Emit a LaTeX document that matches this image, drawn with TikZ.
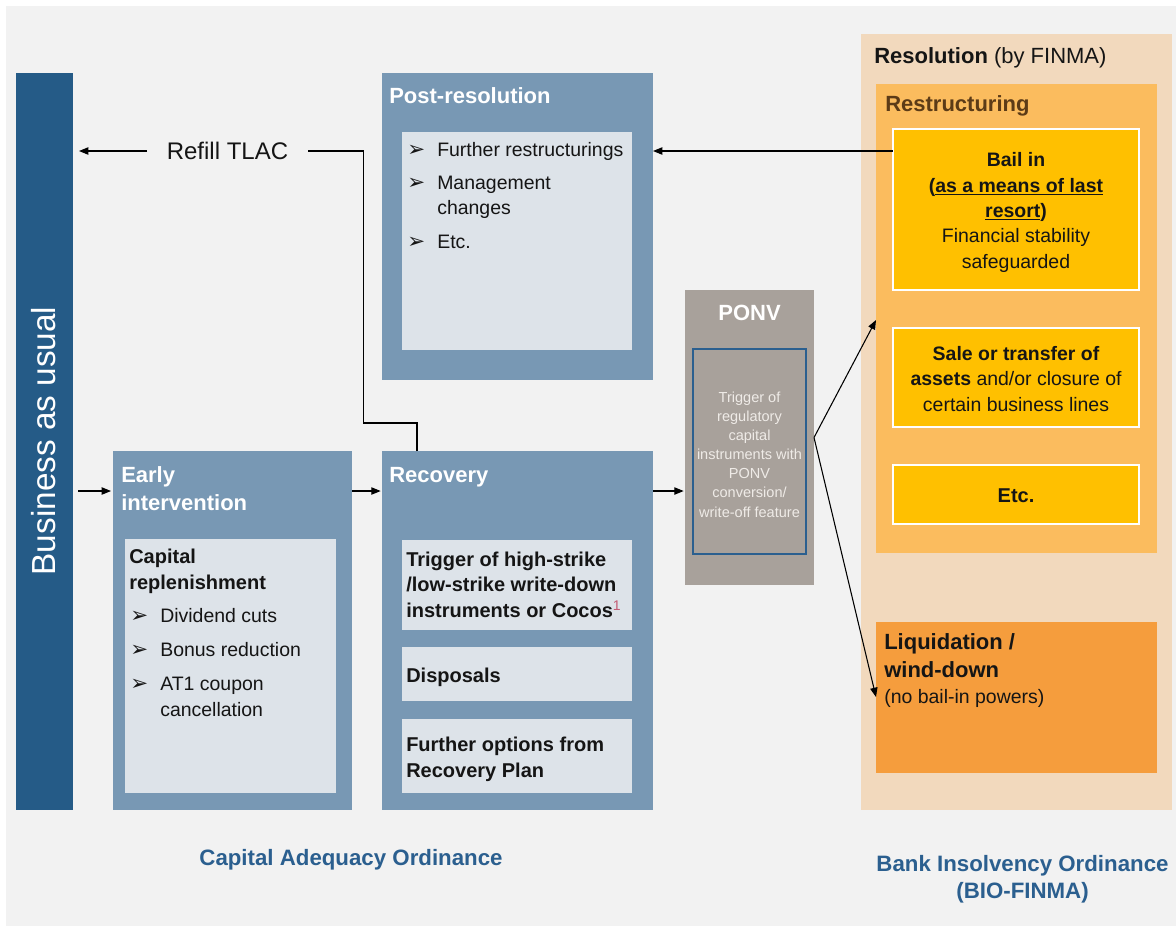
\documentclass[tikz,border=0pt]{standalone}
\usepackage{fontspec}
\setmainfont{Liberation Sans}
\newfontfamily\dejavu{DejaVu Sans}
\usetikzlibrary{fit,arrows.meta,calc}
\definecolor{bgc}{HTML}{F2F2F2}
\definecolor{baublue}{HTML}{255B87}
\definecolor{midblue}{HTML}{7898B4}
\definecolor{paleblue}{HTML}{DDE3E9}
\definecolor{ponvc}{HTML}{A8A19B}
\definecolor{ponvtxt}{HTML}{EFEBE7}
\definecolor{ponvline}{HTML}{2B5F8F}
\definecolor{resbg}{HTML}{F2D9BD}
\definecolor{restrc}{HTML}{FBBC5E}
\definecolor{gold}{HTML}{FFC000}
\definecolor{liqc}{HTML}{F59D3D}
\definecolor{brownt}{HTML}{5C3B17}
\definecolor{ordblue}{HTML}{2B5F8F}
\definecolor{txt}{HTML}{151515}
\definecolor{fnred}{HTML}{C25B73}
\newcommand\arrbul{\makebox[22.5pt][l]{\dejavu\fontsize{16}{16}\selectfont ➢}}
\begin{document}
\begin{tikzpicture}[x=0.75pt,y=-0.75pt,
  area/.style={inner sep=0pt, outer sep=0pt},
  ttl/.style={font=\bfseries\fontsize{16.5}{21}\selectfont, text=white, inner sep=0pt, anchor=base west, align=left},
  body/.style={font=\fontsize{14.6}{19}\selectfont, text=txt, inner sep=0pt, anchor=base west, align=left},
  bbody/.style={font=\bfseries\fontsize{15}{19}\selectfont, text=txt, inner sep=0pt, anchor=base west, align=left},
  conn/.style={line width=0.8pt, draw=black},
  arr/.style={conn, -{Triangle[length=7pt,width=5.5pt]}},
  gbox/.style={area, fill=gold, draw=white, line width=1.4pt},
  ordl/.style={font=\bfseries\fontsize{16.7}{20.25}\selectfont, text=ordblue, inner sep=0pt, anchor=base, align=center},
]
\useasboundingbox (0,0) rectangle (1176,929);
\fill[white] (0,0) rectangle (1176,929);
\fill[bgc] (6,6) rectangle (1176,926);

% Business as usual
\node[area, fill=baublue, fit={(16,73) (73,810)}] (bau) {};
\node[rotate=90, text=white, font=\fontsize{25}{30}\selectfont, inner sep=0pt] (baut) at (44,441) {Business as usual};

% Post-resolution
\node[area, fill=midblue, fit={(382,73) (653,380)}] (post) {};
\node[area, fill=paleblue, fit={(402,132) (632,350)}] (posti) {};
\node[ttl] (postt) at (389,103) {Post-resolution};
\node[body] (postl) at (407,248) {\arrbul Further restructurings\\[6pt]\arrbul Management\\\hspace*{22.5pt}changes\\[6pt]\arrbul Etc.};

% Early intervention
\node[area, fill=midblue, fit={(113,451) (352,810)}] (early) {};
\node[area, fill=paleblue, fit={(125,539) (336,793)}] (earlyi) {};
\node[ttl] (earlyt) at (121,510) {Early\\intervention};
\node[bbody] (cap) at (129,589) {Capital\\replenishment};
\node[body] (capl) at (130,716) {\arrbul Dividend cuts\\[6.5pt]\arrbul Bonus reduction\\[6.5pt]\arrbul AT1 coupon\\\hspace*{22.5pt}cancellation};

% Recovery
\node[area, fill=midblue, fit={(382,451) (653,810)}] (rec) {};
\node[area, fill=paleblue, fit={(402,540) (632,630)}] (rec1) {};
\node[area, fill=paleblue, fit={(402,647) (632,701)}] (rec2) {};
\node[area, fill=paleblue, fit={(402,719) (632,793)}] (rec3) {};
\node[ttl] (rect) at (389,482) {Recovery};
\node[bbody] (rec1t) at (406,617) {Trigger of high-strike\\/low-strike write-down\\instruments or Cocos\textsuperscript{\textcolor{fnred}{\mdseries 1}}};
\node[bbody] (rec2t) at (406,682) {Disposals};
\node[bbody] (rec3t) at (406,777) {Further options from\\Recovery Plan};

% PONV
\node[area, fill=ponvc, fit={(685,290) (814,585)}] (ponv) {};
\node[area, draw=ponvline, line width=1.1pt, fit={(693,349) (806,554)}] (ponvi) {};
\node[ttl, anchor=base] (ponvt) at (749.5,320) {PONV};
\node[font=\fontsize{10.9}{14.3}\selectfont, text=ponvtxt, inner sep=0pt, anchor=base, align=center] (ponvtx) at (749.5,517) {Trigger of\\regulatory\\capital\\instruments with\\PONV\\conversion/\\write-off feature};

% Resolution
\node[area, fill=resbg, fit={(861,34) (1172,810)}] (res) {};
\node[area, fill=restrc, fit={(876,84) (1157,553)}] (restr) {};
\node[gbox, fit={(893,129) (1139,290)}] (bail) {};
\node[gbox, fit={(893,328) (1139,427)}] (sale) {};
\node[gbox, fit={(893,465) (1139,524)}] (etc) {};
\node[area, fill=liqc, fit={(876,622) (1157,773)}] (liq) {};
\node[ttl, text=txt] (rest) at (874,63) {Resolution \mdseries(by FINMA)};
\node[ttl, text=brownt] (restrt) at (885,111) {Restructuring};
\node[body, anchor=base, align=center] (bailt) at (1016,268) {\textbf{Bail in}\\\textbf{(\underline{as a means of last}}\\\textbf{\underline{resort})}\\Financial stability\\safeguarded};
\node[body, anchor=base, align=center] (salet) at (1016,411) {\textbf{Sale or transfer of}\\\textbf{assets} and/or closure of\\certain business lines};
\node[bbody, anchor=base] (etct) at (1016,502) {Etc.};
\node[ttl, text=txt] (liqt) at (884,677) {Liquidation /\\wind-down};
\node[body] (liqn) at (884,703) {(no bail-in powers)};

% Labels
\node[font=\fontsize{18}{22}\selectfont, text=txt, inner xsep=14.5pt, inner ysep=0pt] (refill) at (227.5,151) {Refill TLAC};
\node[ordl] (cao) at (351,865) {Capital Adequacy Ordinance};
\node[ordl] (bio) at (1022.5,898) {Bank Insolvency Ordinance\\(BIO-FINMA)};

% Connectors
\coordinate (ey) at ($(early.north west)+(0,40)$);
\coordinate (rtop) at ($(rec.north west)+(35,0)$);
\coordinate (r1) at ($(restr.north west)+(0,236)$);
\coordinate (l1) at ($(liq.north west)+(0,75)$);
\draw[conn] (rtop) -- ++(0,-28) -| ($(refill.east)+(56,0)$) -- (refill.east);
\draw[arr, shorten >=4.5pt] (refill.west) -- (bau.east |- refill.west);
\draw[arr, shorten <=4pt, shorten >=1.5pt] (bau.east |- ey) -- (ey);
\draw[arr, shorten >=1pt] (early.east |- ey) -- (rec.west |- ey);
\draw[arr, shorten >=1pt] (rec.east |- ey) -- (ponv.west |- ey);
\draw[arr] (bail.west |- refill.center) -- (post.east |- refill.center);
\draw[arr] (ponv.east) -- (r1);
\draw[arr] (ponv.east) -- (l1);
\end{tikzpicture}
\end{document}
